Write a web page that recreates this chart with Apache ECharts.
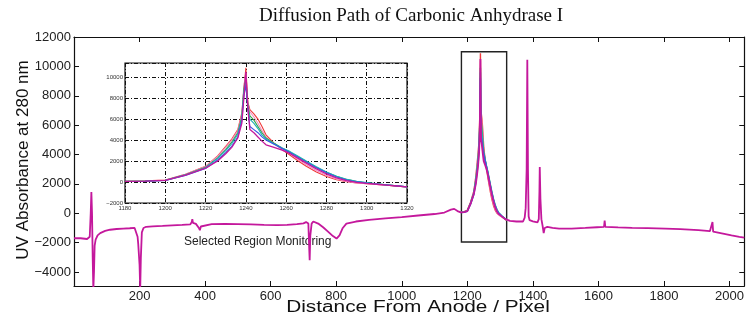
<!DOCTYPE html>
<html><head><meta charset="utf-8">
<script src="https://cdn.jsdelivr.net/npm/echarts@6/dist/echarts.min.js"></script>
<style>html,body{margin:0;padding:0;background:#fff}#c{width:747px;height:321px}</style>
</head><body><div id="c"></div>
<script>
// ---------- DATA ----------
const titleText = 'Diffusion Path of Carbonic Anhydrase I';
const xAxisTitle = 'Distance From Anode / Pixel';
const yAxisTitle = 'UV Absorbance at 280 nm';
const insetCaption = 'Selected Region Monitoring';

const mainXTicks = [200, 400, 600, 800, 1000, 1200, 1400, 1600, 1800, 2000];
const mainYTicks = [-4000, -2000, 0, 2000, 4000, 6000, 8000, 10000, 12000];
const selectedRegionX = [1182, 1320];
const selectedRegionY = [11000, -1950];

// baseline trace left of the selected region (x, y)
const mainLeft = [[0,-1700],[20,-1700],[40,-1750],[48,-1600],[51,0],[53,1450],[55,0],[57,-3000],[59,-5200],[61,-4000],[63,-2200],[66,-1800],[72,-1500],[80,-1350],[95,-1200],[110,-1120],[130,-1070],[150,-1040],[170,-1020],[185,-1000],[190,-1050],[194,-1600],[196,-2100],[198,-2000],[200,-3500],[202,-5200],[204,-3000],[207,-1300],[212,-1000],[220,-920],[240,-890],[270,-860],[300,-820],[330,-790],[355,-750],[359,-600],[361,-400],[363,-650],[372,-720],[378,-650],[381,-1000],[384,-1150],[387,-900],[392,-780],[420,-740],[460,-720],[500,-740],[540,-760],[580,-790],[620,-800],[650,-790],[680,-740],[700,-690],[708,-600],[712,-520],[715,-700],[717,-2000],[719,-3200],[721,-1500],[725,-700],[730,-560],[745,-700],[760,-950],[775,-1250],[790,-1550],[801,-1720],[810,-1500],[820,-1000],[831,-700],[860,-560],[900,-450],[950,-350],[1000,-260],[1050,-150],[1100,-50],[1130,50],[1150,250],[1160,300],[1170,150]];
// baseline trace right of the selected region (x, y)
const mainRight = [[1330,-520],[1350,-560],[1370,-560],[1375,-300],[1378,350],[1381,3000],[1383,10450],[1385,3000],[1387,-200],[1390,-470],[1400,-550],[1414,-620],[1418,-400],[1420,1500],[1421,3150],[1423,1000],[1426,-400],[1430,-900],[1433,-1350],[1436,-1000],[1444,-930],[1460,-1000],[1480,-1040],[1500,-1040],[1518,-1040],[1521,-950],[1524,-1040],[1560,-1000],[1596,-950],[1617,-930],[1619,-500],[1621,-930],[1660,-960],[1703,-990],[1750,-1010],[1804,-1040],[1850,-1080],[1905,-1150],[1940,-1220],[1946,-1220],[1948,-600],[1950,-1250],[1980,-1380],[2006,-1500],[2030,-1600],[2045,-1660]];

// selected region, one array per monitored trace
const peakX =       [1180,1190,1200,1210,1220,1226,1230,1233,1236,1238,1239,1240,1241,1242,1244,1246,1248,1250,1254,1258,1262,1266,1270,1275,1280,1285,1290,1295,1300,1305,1310,1315,1320];
const peakMagenta = [60,80,150,650,1330,2000,2700,3300,4200,5600,8000,10500,7000,5000,4700,4300,3900,3550,3300,3050,2700,2250,1800,1250,780,400,130,-40,-130,-210,-290,-380,-470];
const peakRed =     [80,110,200,750,1500,2500,3400,4100,5000,6600,8800,10900,7600,6900,6500,6000,5300,4500,3700,3100,2550,2000,1500,950,520,220,20,-100,-170,-240,-310,-390,-480];
const peakGreen =   [60,90,170,700,1400,2300,3100,3800,4700,6200,8900,9900,7300,6300,5900,5300,4700,4200,3700,3250,2850,2400,1950,1400,930,540,250,40,-80,-180,-270,-370,-460];
const peakBlue =    [50,70,140,620,1280,2100,2800,3400,4300,5800,8200,9200,6900,5300,5000,4700,4300,4000,3600,3200,2800,2350,1900,1350,880,480,200,10,-100,-190,-280,-370,-460];
const peakCyan =    [60,80,160,680,1380,2250,3000,3650,4550,6100,8600,9600,7100,6000,5600,5100,4500,4100,3650,3250,2900,2450,2000,1450,960,560,270,60,-60,-170,-260,-360,-450];
const peakPink =    [70,100,190,740,1480,2450,3300,4000,4900,6400,9200,10400,7400,6700,6200,5600,4900,4300,3650,3150,2700,2150,1650,1100,650,300,60,-80,-160,-240,-310,-390,-480];

// ---------- BUILD ----------
const pair = ys => peakX.map((x, i) => [x, ys[i]]);
const traces = [
  {name: 'red', color: '#f03a3a', ys: peakRed},
  {name: 'pink', color: '#f48bc0', ys: peakPink},
  {name: 'green', color: '#2fa84a', ys: peakGreen},
  {name: 'cyan', color: '#22b0b8', ys: peakCyan},
  {name: 'blue', color: '#3b55e6', ys: peakBlue}
];
const mainFull = mainLeft.concat(pair(peakMagenta), mainRight);

const chart = echarts.init(document.getElementById('c'), null, {renderer: 'canvas'});
const sans = 'Liberation Sans, Arial, sans-serif';
const axisBlack = {show: true, onZero: false, lineStyle: {color: '#111', width: 1.2}};
const dashDot = {show: true, lineStyle: {color: '#111', width: 1, type: [4, 2, 1, 2]}};
const plainFmt = v => String(v).replace('-', '\u2212');

const series = [];
traces.forEach(t => series.push({type: 'line', xAxisIndex: 0, yAxisIndex: 0, data: pair(t.ys), showSymbol: false, lineStyle: {color: t.color, width: 1.4}, silent: true}));
series.push({type: 'line', xAxisIndex: 0, yAxisIndex: 0, data: mainFull, showSymbol: false, lineStyle: {color: '#c4189c', width: 1.8}, silent: true,
  markArea: {silent: true, itemStyle: {color: 'rgba(0,0,0,0)', borderColor: '#222', borderWidth: 1.4},
    data: [[{coord: [selectedRegionX[0], selectedRegionY[0]]}, {coord: [selectedRegionX[1], selectedRegionY[1]]}]]}});
traces.forEach(t => series.push({type: 'line', xAxisIndex: 2, yAxisIndex: 2, data: pair(t.ys), showSymbol: false, lineStyle: {color: t.color, width: 1.1}, silent: true}));
series.push({type: 'line', xAxisIndex: 2, yAxisIndex: 2, data: pair(peakMagenta), showSymbol: false, lineStyle: {color: '#c4189c', width: 1.3}, silent: true});

chart.setOption({
  animation: false,
  backgroundColor: '#fff',
  grid: [
    {left: 74, right: 1, top: 37, bottom: 35, show: false},
    {left: 125, right: 340, top: 63, bottom: 118, show: true, borderColor: '#111', borderWidth: 1.2, backgroundColor: '#fff'}
  ],
  xAxis: [
    {gridIndex: 0, type: 'value', min: 0, max: 2045, position: 'bottom',
     axisLine: axisBlack, splitLine: {show: false},
     axisTick: {inside: true, length: 5, lineStyle: {color: '#111'}, customValues: mainXTicks},
     axisLabel: {customValues: mainXTicks, fontSize: 13, color: '#222', fontFamily: sans, margin: 4, formatter: plainFmt}},
    {gridIndex: 0, type: 'value', min: 0, max: 2045, position: 'top',
     axisLine: axisBlack, splitLine: {show: false},
     axisTick: {inside: true, length: 5, lineStyle: {color: '#111'}, customValues: mainXTicks},
     axisLabel: {show: false}},
    {gridIndex: 1, type: 'value', min: 1180, max: 1320, interval: 20, position: 'bottom',
     axisLine: {show: false, onZero: false}, axisTick: {show: false}, splitLine: dashDot,
     axisLabel: {fontSize: 6, color: '#333', fontFamily: sans, margin: 2, formatter: plainFmt}}
  ],
  yAxis: [
    {gridIndex: 0, type: 'value', min: -4950, max: 12000, position: 'left',
     axisLine: axisBlack, splitLine: {show: false},
     axisTick: {inside: true, length: 5, lineStyle: {color: '#111'}, customValues: mainYTicks},
     axisLabel: {customValues: mainYTicks, fontSize: 13, color: '#222', fontFamily: sans, margin: 3, formatter: plainFmt}},
    {gridIndex: 0, type: 'value', min: -4950, max: 12000, position: 'right',
     axisLine: axisBlack, splitLine: {show: false},
     axisTick: {inside: true, length: 5, lineStyle: {color: '#111'}, customValues: mainYTicks},
     axisLabel: {show: false}},
    {gridIndex: 1, type: 'value', min: -2000, max: 11350, interval: 2000, position: 'left',
     axisLine: {show: false, onZero: false}, axisTick: {show: false}, splitLine: dashDot,
     axisLabel: {fontSize: 6, color: '#333', fontFamily: sans, margin: 2, showMaxLabel: false, formatter: plainFmt}}
  ],
  graphic: [
    {type: 'text', x: 411, y: 16, style: {text: titleText, font: '19px "Liberation Serif", "Times New Roman", serif', fill: '#111', textAlign: 'center', textVerticalAlign: 'middle'}},
    {type: 'text', x: 418, y: 308, scaleX: 1.3, style: {text: xAxisTitle, font: '16px "Liberation Sans", Arial, sans-serif', fill: '#111', textAlign: 'center', textVerticalAlign: 'middle'}},
    {type: 'text', x: 23, y: 160, rotation: Math.PI / 2, style: {text: yAxisTitle, font: '17px "Liberation Sans", Arial, sans-serif', fill: '#111', textAlign: 'center', textVerticalAlign: 'middle'}},
    {type: 'text', x: 184, y: 242, style: {text: insetCaption, font: '12px "Liberation Sans", Arial, sans-serif', fill: '#222', textAlign: 'left', textVerticalAlign: 'middle'}}
  ],
  series: series
});
</script></body></html>
